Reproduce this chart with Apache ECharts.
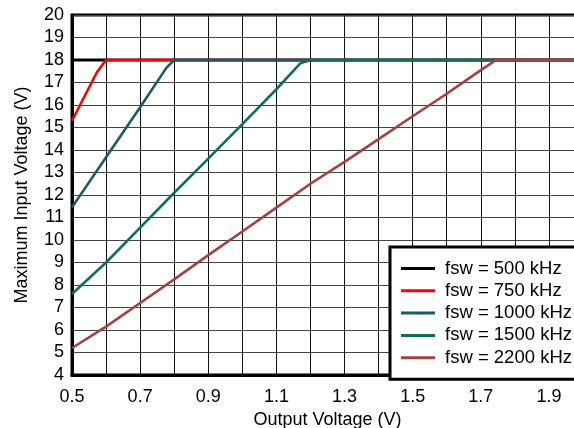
<!DOCTYPE html>
<html>
<head>
<meta charset="utf-8">
<script src="https://cdn.jsdelivr.net/npm/echarts@6/dist/echarts.min.js"></script>
<style>
html,body{margin:0;padding:0;background:#fff;}
#chart{width:574px;height:428px;}
</style>
</head>
<body>
<div id="chart"></div>
<script>
// Series names
const seriesNames = ['fsw = 500 kHz', 'fsw = 750 kHz', 'fsw = 1000 kHz', 'fsw = 1500 kHz', 'fsw = 2200 kHz'];
// Output voltage (V) / Maximum input voltage (V) per series
const x500 = [0.5, 2.0];
const y500 = [18, 18];
const x750 = [0.5, 0.573, 0.6, 2.0];
const y750 = [15.3, 17.45, 18, 18];
const x1000 = [0.5, 0.6, 0.7, 0.777, 0.8, 2.0];
const y1000 = [11.45, 13.68, 15.9, 17.65, 18, 18];
const x1500 = [0.5, 0.6, 0.7, 0.8, 0.9, 1.0, 1.1, 1.17, 1.2, 2.0];
const y1500 = [7.6, 9.0, 10.55, 12.1, 13.62, 15.15, 16.7, 17.85, 18, 18];
const x2200 = [0.5, 0.6, 0.7, 0.8, 0.9, 1.0, 1.1, 1.2, 1.3, 1.4, 1.5, 1.6, 1.7, 1.745, 2.0];
const y2200 = [5.2, 6.15, 7.2, 8.25, 9.33, 10.38, 11.44, 12.5, 13.47, 14.48, 15.5, 16.5, 17.55, 18, 18];
// Tick labels
const xTickLabels = ['0.5', '0.7', '0.9', '1.1', '1.3', '1.5', '1.7', '1.9'];
const colors = ['#000000', '#ff0000', '#1b5a68', '#0d7152', '#a63f3f'];

const xs = [x500, x750, x1000, x1500, x2200];
const ys = [y500, y750, y1000, y1500, y2200];
const pair = (a, b) => a.map((v, i) => [v, b[i]]);

const font = '"Liberation Sans", Arial, Helvetica, sans-serif';
const chart = echarts.init(document.getElementById('chart'), null, {renderer: 'canvas'});
chart.setOption({
  animation: false,
  backgroundColor: '#fff',
  grid: {left: 72, top: 15, right: -9, bottom: 53, show: true, borderColor: '#000', borderWidth: 3,
         backgroundColor: 'transparent', containLabel: false, outerBoundsMode: 'none'},
  xAxis: {
    type: 'value', min: 0.5, max: 2.0, interval: 0.1,
    name: 'Output Voltage (V)', nameLocation: 'middle', nameGap: 34,
    nameTextStyle: {fontFamily: font, fontSize: 18, color: '#000'},
    axisLine: {show: true, lineStyle: {color: '#000', width: 3}},
    axisTick: {show: false},
    axisLabel: {
      fontFamily: font, fontSize: 18, color: '#000', margin: 13,
      formatter: v => { const s = v.toFixed(1); return xTickLabels.indexOf(s) >= 0 ? s : ''; }
    },
    splitLine: {show: true, lineStyle: {color: '#111', width: 1}}
  },
  yAxis: {
    type: 'value', min: 4, max: 20, interval: 1,
    name: 'Maximum Input Voltage (V)', nameLocation: 'middle', nameGap: 41,
    nameTextStyle: {fontFamily: font, fontSize: 18, color: '#000'},
    axisLine: {show: true, lineStyle: {color: '#000', width: 3}},
    axisTick: {show: false},
    axisLabel: {fontFamily: font, fontSize: 18, color: '#000', margin: 8},
    splitLine: {show: true, lineStyle: {color: '#444', width: 1}}
  },
  legend: {
    show: true, orient: 'vertical', left: 390, top: 247,
    padding: [12, 30, 12, 11], itemGap: 3.3, itemWidth: 34, itemHeight: 3,
    icon: 'rect', backgroundColor: '#fff', borderColor: '#000', borderWidth: 3,
    textStyle: {fontFamily: font, fontSize: 18.5, color: '#000', lineHeight: 18, padding: [0, 0, 0, 5]},
    data: seriesNames
  },
  series: seriesNames.map((n, i) => ({
    name: n, type: 'line', data: pair(xs[i], ys[i]),
    showSymbol: false, symbol: 'none', smooth: false,
    color: colors[i],
    lineStyle: {color: colors[i], width: i === 0 ? 3 : 2.6},
    z: 2 + i
  }))
});
</script>
</body>
</html>
